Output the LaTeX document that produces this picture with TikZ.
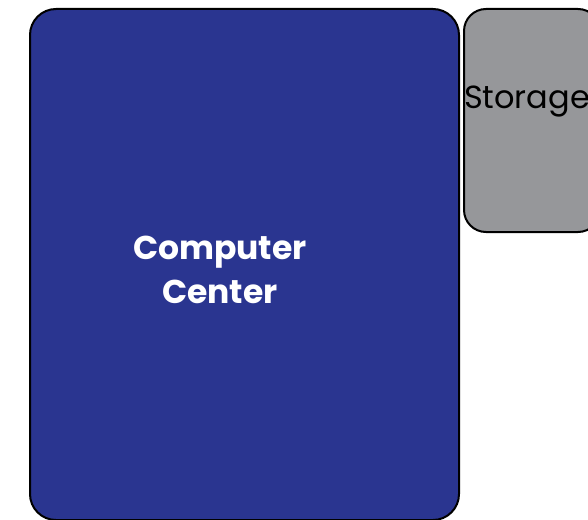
\documentclass[tikz,border=0pt]{standalone}
\usepackage{fontspec}
\setmainfont{Poppins}
\definecolor{ccblue}{HTML}{2A3590}
\definecolor{stgrey}{HTML}{96979A}
\begin{document}
\begin{tikzpicture}[x=1pt,y=-1pt,
  boxstyle/.style={draw=black,line width=2pt,rounded corners=26pt}]
\useasboundingbox (0,0) rectangle (588,519);
\draw[boxstyle,fill=ccblue] (30,9) rectangle (459,520);
\draw[boxstyle,fill=stgrey,rounded corners=22pt] (464,9) rectangle (600,232);
\node[text=white,font=\bfseries\fontsize{33}{44}\selectfont,align=center] (cc) at (220,270) {Computer\\Center};
\node[text=black,font=\fontsize{32}{36}\selectfont] (st) at (527,102) {Storage};
\end{tikzpicture}
\end{document}
